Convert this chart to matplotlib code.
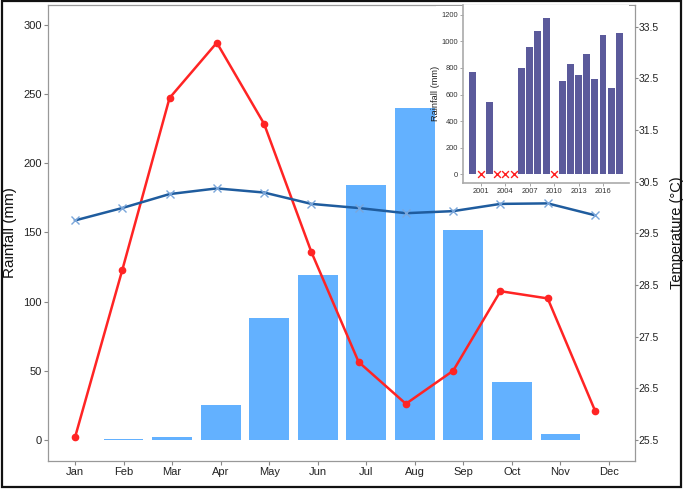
import matplotlib
matplotlib.use("Agg")
import matplotlib.pyplot as plt
from matplotlib.patches import Rectangle
import numpy as np

plt.rcParams['font.family'] = ['Liberation Sans', 'DejaVu Sans']

# ---------------- data ----------------
months = ["Jan", "Feb", "Mar", "Apr", "May", "Jun", "Jul", "Aug", "Sep", "Oct", "Nov", "Dec"]
rainfall = [0, 1, 2, 25, 88, 119, 184, 240, 152, 42, 4, 0]
temp_mean = [29.75, 29.99, 30.26, 30.37, 30.29, 30.07, 29.99, 29.89, 29.93, 30.07, 30.08, 29.85]
temp_red = [25.55, 28.79, 32.12, 33.19, 31.62, 29.14, 27.01, 26.20, 26.84, 28.38, 28.24, 26.07]

rain_ticks = [0, 50, 100, 150, 200, 250, 300]
temp_ticks = [25.5, 26.5, 27.5, 28.5, 29.5, 30.5, 31.5, 32.5, 33.5]

years = [2000, 2002, 2006, 2007, 2008, 2009, 2011, 2012, 2013, 2014, 2015, 2016, 2017, 2018]
annual_rain = [772, 543, 800, 955, 1076, 1173, 701, 833, 745, 901, 714, 1051, 646, 1061]
missing_years = [2001, 2003, 2004, 2005, 2010]
inset_xticks = [2001, 2004, 2007, 2010, 2013, 2016]
inset_yticks = [0, 200, 400, 600, 800, 1000, 1200]

# ---------------- layout ----------------
W, H = 683, 496
fig = plt.figure(figsize=(W / 100, H / 100), dpi=100)

def rect(x0, y0, x1, y1):
    return [x0 / W, 1 - y1 / H, (x1 - x0) / W, (y1 - y0) / H]

main_rect = rect(48.3, 4.7, 635, 461)
ax = fig.add_axes(main_rect)
x = np.arange(len(months))
ax.bar(x, rainfall, width=0.82, color='#63B1FF', zorder=1)
ax.set_xlim(-0.55, 11.535)
ax.set_ylim(-15.2, 314.5)
ax.set_xticks(x)
ax.set_xticklabels(months, fontsize=8, color='#222222')
ax.set_yticks(rain_ticks)
ax.set_yticklabels([str(v) for v in rain_ticks], fontsize=8, color='#222222')
ax.tick_params(axis='both', length=3, width=0.8, color='#888888', pad=1.5)
for s in ax.spines.values():
    s.set_color('#999999')
    s.set_linewidth(0.9)
ax.set_ylabel("Rainfall (mm)", fontsize=11, color='#111111')
ax.yaxis.set_label_coords(-(48.3 - 17) / (635 - 48.3), 0.5)

# line axes (overlaid, right axis)
ax2 = fig.add_axes(main_rect, frameon=False)
ax2.patch.set_visible(False)
ax2.plot(x, temp_red, color='#FF2424', lw=1.8, marker='o', ms=4.5, zorder=3)
ax2.plot(x, temp_mean, color='#1F5C9E', lw=1.8, marker='x', ms=6, mew=1.0,
         mec='#7AA6DA', zorder=4)
ax2.set_xlim(-0.565, 11.847)
ax2.set_ylim(25.093, 33.926)
ax2.xaxis.set_visible(False)
ax2.yaxis.tick_right()
ax2.yaxis.set_label_position('right')
ax2.set_yticks(temp_ticks)
ax2.set_yticklabels([f"{v:.1f}" for v in temp_ticks], fontsize=7.5, color='#222222')
ax2.tick_params(axis='y', length=2, width=0.8, color='#888888', pad=0.5)
ax2.set_ylabel("Temperature (°C)", fontsize=10.5, color='#111111')
ax2.yaxis.set_label_coords((670.5 - 48.3) / (635 - 48.3), 0.5)

# white backdrop for inset
fig.patches.append(Rectangle((436 / W, 1 - 195 / H), (634 - 436) / W, (195 - 5.6) / H,
                             transform=fig.transFigure, facecolor='white',
                             edgecolor='none', zorder=2))

# inset
ins = fig.add_axes(rect(462.7, 5, 629, 182.7), zorder=3)
ins.bar(years, annual_rain, width=0.85, color='#5B5A9B')
ins.scatter(missing_years, [0] * len(missing_years), marker='x', color='#FF2020',
            s=24, linewidths=1.0, zorder=3)
ins.set_xlim(1998.75, 2019.2)
ins.set_ylim(-63, 1273)
ins.set_xticks(inset_xticks)
ins.set_xticklabels([str(v) for v in inset_xticks], fontsize=5.4, color='#333333')
ins.set_yticks(inset_yticks)
ins.set_yticklabels([str(v) for v in inset_yticks], fontsize=5.4, color='#333333')
ins.tick_params(axis='both', length=2, width=0.6, color='#999999', pad=1.5)
for side in ['top', 'right']:
    ins.spines[side].set_visible(False)
for side in ['left', 'bottom']:
    ins.spines[side].set_color('#AAAAAA')
    ins.spines[side].set_linewidth(1.2)
ins.set_ylabel("Rainfall (mm)", fontsize=6.7, color='#222222')
ins.yaxis.set_label_coords(-(462.7 - 439.5) / (629 - 462.7), 0.5)

# outer border
fig.patches.append(Rectangle((2 / W, 1 - 487 / H), (681 - 2) / W, (487 - 1) / H,
                             transform=fig.transFigure, facecolor='none',
                             edgecolor='#111111', lw=1.6, zorder=5))

fig.savefig("out.png", dpi=100, facecolor='white')
